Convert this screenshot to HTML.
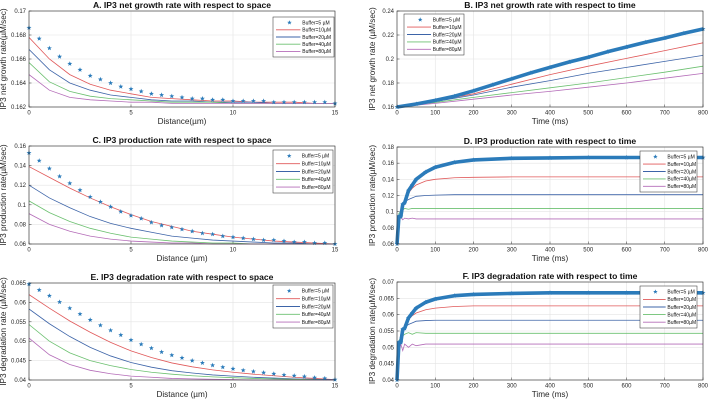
<!DOCTYPE html>
<html><head><meta charset="utf-8"><style>
html,body{margin:0;padding:0;background:#fff;}
svg{display:block;font-family:"Liberation Sans",Arial,sans-serif;}
</style></head><body>
<svg id="fig" width="708" height="402" viewBox="0 0 708 402" xmlns="http://www.w3.org/2000/svg"></svg>
<script>
// ---------- Panel A data ----------
const spaceStarX = [0,0.5,1,1.5,2,2.5,3,3.5,4,4.5,5,5.5,6,6.5,7,7.5,8,8.5,9,9.5,10,10.5,11,11.5,12,12.5,13,13.5,14,14.5,15];
const spaceLineX = [0,1,2,3,4,5,6,7,8,9,10,11,12,13,14,15];
const aStar = [0.1686,0.1677,0.1669,0.1662,0.1656,0.1651,0.1646,0.1643,0.1640,0.1637,0.1635,0.1633,0.1631,0.1630,0.1629,0.1628,0.1627,0.1627,0.1626,0.1626,0.1625,0.1625,0.1625,0.1625,0.1624,0.1624,0.1624,0.1624,0.1624,0.1624,0.1623];
const aB10 = [0.1678,0.1660,0.1647,0.1639,0.1634,0.1631,0.1628,0.1627,0.1626,0.1625,0.1625,0.1624,0.1624,0.1624,0.1623,0.1623];
const aB20 = [0.1668,0.1651,0.1640,0.1634,0.1630,0.1628,0.1626,0.1625,0.1625,0.1624,0.1624,0.1624,0.1623,0.1623,0.1623,0.1623];
const aB40 = [0.1657,0.1641,0.1633,0.1629,0.1627,0.1626,0.1625,0.1624,0.1624,0.1624,0.1623,0.1623,0.1623,0.1623,0.1623,0.1623];
const aB80 = [0.1647,0.1634,0.1628,0.1626,0.1625,0.1624,0.1624,0.1623,0.1623,0.1623,0.1623,0.1623,0.1623,0.1623,0.1623,0.1623];
const aYTicks = [0.162,0.164,0.166,0.168,0.17];
const aYLabels = ["0.162","0.164","0.166","0.168","0.17"];
const spaceXTicks = [0,5,10,15];
const spaceXLabels = ["0","5","10","15"];
// ---------- Panel B data ----------
const bStarX = [0,50,100,150,200,250,300,350,400,450,500,550,600,650,700,750,800];
const bStar = [0.160,0.1625,0.1655,0.169,0.1735,0.1785,0.1835,0.1885,0.193,0.1975,0.2015,0.206,0.210,0.214,0.2175,0.2215,0.225];
const timeLineXB = [0,100,200,300,400,500,600,700,800];
const bB10 = [0.160,0.165,0.171,0.179,0.187,0.194,0.2005,0.207,0.2135];
const bB20 = [0.160,0.1645,0.170,0.1765,0.182,0.188,0.193,0.198,0.203];
const bB40 = [0.160,0.1638,0.168,0.172,0.176,0.180,0.1845,0.189,0.194];
const bB80 = [0.160,0.163,0.1665,0.170,0.173,0.1765,0.180,0.184,0.188];
const bYTicks = [0.16,0.18,0.2,0.22,0.24];
const bYLabels = ["0.16","0.18","0.2","0.22","0.24"];
const timeXTicks = [0,100,200,300,400,500,600,700,800];
const timeXLabels = ["0","100","200","300","400","500","600","700","800"];
// ---------- Panel C data ----------
const cStar = [0.153,0.145,0.137,0.129,0.122,0.115,0.108,0.103,0.098,0.093,0.089,0.086,0.082,0.079,0.077,0.075,0.073,0.071,0.070,0.068,0.067,0.066,0.065,0.064,0.064,0.063,0.062,0.062,0.061,0.061,0.060];
const cB10 = [0.139,0.128,0.117,0.107,0.098,0.090,0.083,0.078,0.073,0.070,0.067,0.065,0.063,0.062,0.061,0.060];
const cB20 = [0.120,0.107,0.097,0.088,0.081,0.076,0.072,0.068,0.066,0.064,0.063,0.062,0.061,0.061,0.060,0.060];
const cB40 = [0.104,0.092,0.083,0.076,0.071,0.067,0.065,0.063,0.062,0.061,0.061,0.060,0.060,0.060,0.060,0.060];
const cB80 = [0.091,0.080,0.073,0.068,0.065,0.063,0.062,0.061,0.061,0.060,0.060,0.060,0.060,0.060,0.060,0.060];
const cYTicks = [0.06,0.08,0.1,0.12,0.14,0.16];
const cYLabels = ["0.06","0.08","0.1","0.12","0.14","0.16"];
// ---------- Panel D data ----------
const timeX = [0,5,10,15,20,30,40,50,75,100,150,200,300,400,500,600,700,800];
const dStar = [0.06,0.094,0.094,0.109,0.111,0.126,0.133,0.140,0.149,0.155,0.161,0.164,0.166,0.1665,0.167,0.167,0.167,0.167];
const dB10 = [0.06,0.090,0.100,0.108,0.115,0.123,0.129,0.133,0.138,0.140,0.142,0.1425,0.143,0.143,0.143,0.143,0.143,0.143];
const dB20 = [0.06,0.092,0.100,0.106,0.112,0.115,0.117,0.119,0.120,0.1205,0.121,0.121,0.121,0.121,0.121,0.121,0.121,0.121];
const dB40 = [0.06,0.098,0.100,0.102,0.104,0.103,0.104,0.104,0.104,0.104,0.104,0.104,0.104,0.104,0.104,0.104,0.104,0.104];
const dB80 = [0.06,0.088,0.093,0.090,0.092,0.091,0.092,0.091,0.091,0.091,0.091,0.091,0.091,0.091,0.091,0.091,0.091,0.091];
const dYTicks = [0.06,0.08,0.1,0.12,0.14,0.16,0.18];
const dYLabels = ["0.06","0.08","0.1","0.12","0.14","0.16","0.18"];
// ---------- Panel E data ----------
const eStar = [0.0647,0.0632,0.0617,0.0601,0.0585,0.0570,0.0555,0.0541,0.0528,0.0516,0.0503,0.0492,0.0482,0.0472,0.0464,0.0457,0.0450,0.0444,0.0438,0.0433,0.0429,0.0425,0.0422,0.0419,0.0416,0.0413,0.0411,0.0409,0.0406,0.0404,0.0401];
const eB10 = [0.0620,0.0585,0.0552,0.0523,0.0497,0.0475,0.0458,0.0444,0.0434,0.0426,0.0420,0.0415,0.0411,0.0407,0.0404,0.0401];
const eB20 = [0.0583,0.0545,0.0512,0.0484,0.0462,0.0445,0.0433,0.0424,0.0418,0.0413,0.0410,0.0407,0.0405,0.0403,0.0402,0.0401];
const eB40 = [0.0543,0.0500,0.0470,0.0450,0.0437,0.0427,0.0420,0.0415,0.0411,0.0408,0.0406,0.0404,0.0403,0.0402,0.0401,0.0400];
const eB80 = [0.0508,0.0465,0.0440,0.0425,0.0416,0.0410,0.0407,0.0404,0.0403,0.0402,0.0401,0.0400,0.0400,0.0400,0.0400,0.0400];
const eYTicks = [0.04,0.045,0.05,0.055,0.06,0.065];
const eYLabels = ["0.04","0.045","0.05","0.055","0.06","0.065"];
// ---------- Panel F data ----------
const fStar = [0.04,0.0515,0.0515,0.0555,0.0558,0.0590,0.0605,0.0620,0.0638,0.0648,0.0658,0.0662,0.0665,0.0667,0.0667,0.0667,0.0667,0.0667];
const fB10 = [0.04,0.050,0.052,0.055,0.057,0.0585,0.0597,0.0605,0.0615,0.0620,0.0625,0.0627,0.0627,0.0627,0.0627,0.0627,0.0627,0.0627];
const fB20 = [0.04,0.051,0.054,0.0555,0.056,0.057,0.0575,0.058,0.0582,0.0583,0.0583,0.0583,0.0583,0.0583,0.0583,0.0583,0.0583,0.0583];
const fB40 = [0.04,0.052,0.053,0.0535,0.054,0.0545,0.054,0.0545,0.0543,0.0543,0.0543,0.0543,0.0543,0.0543,0.0543,0.0543,0.0543,0.0543];
const fB80 = [0.04,0.048,0.051,0.049,0.051,0.050,0.051,0.0505,0.051,0.051,0.051,0.051,0.051,0.051,0.051,0.051,0.051,0.051];
const fYTicks = [0.04,0.045,0.05,0.055,0.06,0.065,0.07];
const fYLabels = ["0.04","0.045","0.05","0.055","0.06","0.065","0.07"];
const legendLabels = ["Buffer=5 µM","Buffer=10µM","Buffer=20µM","Buffer=40µM","Buffer=80µM"];

const NS = "http://www.w3.org/2000/svg";
const svg = document.getElementById('fig');
const COLORS = ["#2b7bba","#e0595a","#3d64a8","#6cc070","#b46cb8"];
function mk(tag, attrs, parent){
  const e = document.createElementNS(NS, tag);
  for (const k in attrs) e.setAttribute(k, attrs[k]);
  (parent||svg).appendChild(e);
  return e;
}
function starPts(cx, cy, r){
  const p=[];
  for(let i=0;i<10;i++){
    const rr = i%2===0 ? r : r*0.42;
    const a = -Math.PI/2 + i*Math.PI/5;
    p.push((cx+rr*Math.cos(a)).toFixed(2)+","+(cy+rr*Math.sin(a)).toFixed(2));
  }
  return p.join(" ");
}
function panel(cfg){
  const g = mk('g',{});
  
  
  const L=cfg.box[0], T=cfg.box[1], R=cfg.box[2], B=cfg.box[3];
  const sx = v => L + (v-cfg.xr[0])/(cfg.xr[1]-cfg.xr[0])*(R-L);
  const sy = v => B - (v-cfg.yr[0])/(cfg.yr[1]-cfg.yr[0])*(B-T);
  mk('rect',{x:L,y:T,width:R-L,height:B-T,fill:"#fff"},g);
  // grid
  cfg.xt.forEach((v,i)=>{
    const x=sx(v);
    const gl=mk('line',{x1:x,x2:x,y1:T,y2:B,stroke:"#e3e3e3","stroke-width":0.6},g);
    
    
    mk('line',{x1:x,x2:x,y1:B,y2:B-2.5,stroke:"#333","stroke-width":0.5},g);
    const t=mk('text',{x:x,y:B+7.5,"font-size":6,"text-anchor":"middle",fill:"#262626"},g);
    t.textContent=cfg.xl[i];
    
    
  });
  cfg.yt.forEach((v,i)=>{
    const y=sy(v);
    const gl=mk('line',{x1:L,x2:R,y1:y,y2:y,stroke:"#e3e3e3","stroke-width":0.6},g);
    
    
    mk('line',{x1:L,x2:L+2.5,y1:y,y2:y,stroke:"#333","stroke-width":0.5},g);
    const t=mk('text',{x:L-3,y:y+2,"font-size":6,"text-anchor":"end",fill:"#262626"},g);
    t.textContent=cfg.yl[i];
    
    
  });
  // series lines (buffers 10..80)
  const clip = mk('clipPath',{id:"clip-"+cfg.name},g);
  mk('rect',{x:L,y:T-3,width:R-L+4,height:B-T+6},clip);
  cfg.lines.forEach((arr,k)=>{
    const pts = arr.map((v,i)=>sx(cfg.lx[i]).toFixed(2)+","+sy(v).toFixed(2)).join(" ");
    const pl=mk('polyline',{points:pts,fill:"none",stroke:COLORS[k+1],"stroke-width":0.8,"clip-path":"url(#clip-"+cfg.name+")"},g);
    
    
  });
  // star series
  if(cfg.dense){
    const pts = cfg.star.map((v,i)=>sx(cfg.sxArr[i]).toFixed(2)+","+sy(v).toFixed(2)).join(" ");
    const pl=mk('polyline',{points:pts,fill:"none",stroke:COLORS[0],"stroke-width":3.6,"stroke-linejoin":"round"},g);
    
    
  }
  cfg.star.forEach((v,i)=>{
    const s=mk('polygon',{points:starPts(sx(cfg.sxArr[i]),sy(v),2.6),fill:COLORS[0]},g);
    
    
  });
  // box
  const bx=mk('rect',{x:L,y:T,width:R-L,height:B-T,fill:"none",stroke:"#262626","stroke-width":0.6},g);
  
  
  // title
  const tt=mk('text',{x:(L+R)/2,y:T-3,"font-size":8.6,"font-weight":"bold","text-anchor":"middle",fill:"#111"},g);
  tt.textContent=cfg.title;
  
  
  const xl=mk('text',{x:(L+R)/2,y:B+17,"font-size":8.2,"text-anchor":"middle",fill:"#262626"},g);
  xl.textContent=cfg.xlabel;
  
  
  const ylx = cfg.ylx, yly=(T+B)/2;
  const yl=mk('text',{x:ylx,y:yly,"font-size":8.2,"text-anchor":"middle",fill:"#262626",transform:"rotate(-90 "+ylx+" "+yly+")"},g);
  yl.textContent=cfg.ylabel;
  
  
  // legend
  const [lx,ly,lw,lh]=cfg.leg;
  const lg=mk('g',{},g);
  
  
  mk('rect',{x:lx,y:ly,width:lw,height:lh,fill:"#fff",stroke:"#262626","stroke-width":0.5},lg);
  const step=(lh-4)/5;
  legendLabels.forEach((lab,k)=>{
    const yy=ly+2+step*(k+0.5);
    const e=mk('g',{},lg);
    
    
    if(k===0) mk('polygon',{points:starPts(lx+lw*0.27,yy,2.4),fill:COLORS[0]},e);
    else mk('line',{x1:lx+3,x2:lx+lw*0.45,y1:yy,y2:yy,stroke:COLORS[k],"stroke-width":0.9},e);
    const t=mk('text',{x:lx+lw*0.48,y:yy+1.8,"font-size":5,fill:"#111"},e);
    t.textContent=lab;
  });
}
const sp=[0,15];
panel({name:"panel-a",box:[29,11,335,107],xr:sp,yr:[0.162,0.17],xt:spaceXTicks,xl:spaceXLabels,yt:aYTicks,yl:aYLabels,
  lx:spaceLineX,lines:[aB10,aB20,aB40,aB80],sxArr:spaceStarX,star:aStar,dense:false,
  title:"A. IP3 net growth rate with respect to space",xlabel:"Distance(µm)",ylabel:"IP3 net growth rate(µM/sec)",ylx:6,leg:[273,17,61,40]});
panel({name:"panel-b",box:[397,11,703,107],xr:[0,800],yr:[0.16,0.24],xt:timeXTicks,xl:timeXLabels,yt:bYTicks,yl:bYLabels,
  lx:timeLineXB,lines:[bB10,bB20,bB40,bB80],sxArr:bStarX,star:bStar,dense:true,
  title:"B. IP3 net growth rate with respect to time",xlabel:"Time (ms)",ylabel:"IP3 net growth rate (µM/sec)",ylx:375,leg:[404,14,60,41]});
panel({name:"panel-c",box:[29,146,335,244],xr:sp,yr:[0.06,0.16],xt:spaceXTicks,xl:spaceXLabels,yt:cYTicks,yl:cYLabels,
  lx:spaceLineX,lines:[cB10,cB20,cB40,cB80],sxArr:spaceStarX,star:cStar,dense:false,
  title:"C. IP3 production rate with respect to space",xlabel:"Distance (µm)",ylabel:"IP3 production rate(µM/sec)",ylx:6,leg:[273,150,60,43]});
panel({name:"panel-d",box:[397,147,703,244],xr:[0,800],yr:[0.06,0.18],xt:timeXTicks,xl:timeXLabels,yt:dYTicks,yl:dYLabels,
  lx:timeX,lines:[dB10,dB20,dB40,dB80],sxArr:timeX,star:dStar,dense:true,
  title:"D. IP3 production rate with respect to time",xlabel:"Time (ms)",ylabel:"IP3 production rate(µM/sec)",ylx:375,leg:[640,151,57,41]});
panel({name:"panel-e",box:[29,283,335,380],xr:sp,yr:[0.04,0.065],xt:spaceXTicks,xl:spaceXLabels,yt:eYTicks,yl:eYLabels,
  lx:spaceLineX,lines:[eB10,eB20,eB40,eB80],sxArr:spaceStarX,star:eStar,dense:false,
  title:"E. IP3 degradation rate with respect to space",xlabel:"Distance (µm)",ylabel:"IP3 degradation rate (µM/sec)",ylx:6,leg:[273,285,60,43]});
panel({name:"panel-f",box:[397,282,703,380],xr:[0,800],yr:[0.04,0.07],xt:timeXTicks,xl:timeXLabels,yt:fYTicks,yl:fYLabels,
  lx:timeX,lines:[fB10,fB20,fB40,fB80],sxArr:timeX,star:fStar,dense:true,
  title:"F. IP3 degradation rate with respect to time",xlabel:"Time (ms)",ylabel:"IP3 degradation rate(µM/sec)",ylx:375,leg:[640,286,57,42]});
</script>
</body></html>
